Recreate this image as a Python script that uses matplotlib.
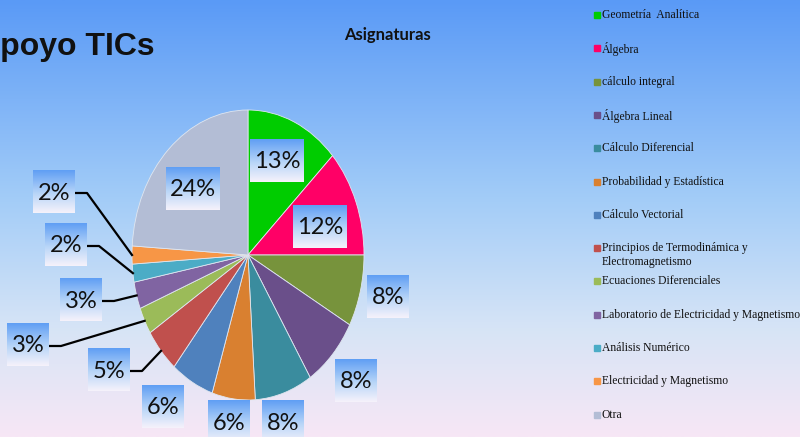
import numpy as np
import matplotlib.pyplot as plt
from matplotlib.colors import to_rgb
from matplotlib.patches import Rectangle

# datos
asignaturas = ["Geometría  Analítica", "Álgebra", "cálculo integral", "Álgebra Lineal",
               "Cálculo Diferencial", "Probabilidad y Estadística", "Cálculo Vectorial",
               "Principios de Termodinámica y\nElectromagnetismo", "Ecuaciones Diferenciales",
               "Laboratorio de Electricidad y Magnetismo", "Análisis Numérico",
               "Electricidad y Magnetismo", "Otra"]
porcentajes = [13, 12, 8, 8, 8, 6, 6, 5, 3, 3, 2, 2, 24]
colores = ["#00cc00", "#ff0066", "#77933c", "#6a4f8a", "#3a8c9e", "#d98030", "#4f81bd",
           "#c0504d", "#9bbb59", "#8064a2", "#4bacc6", "#f79646", "#b3bdd5"]

# posiciones de las etiquetas (pixeles) y cuales llevan linea guia
pos_etiquetas = [(277, 161), (320, 227), (388, 297), (356, 381), (283, 422), (229, 422),
                 (163, 407), (109, 370), (28, 345), (81, 300), (66, 245), (54, 192), (193, 189)]
con_linea = [False] * 7 + [True] * 5 + [False]

W, H = 800, 437
cx, cy, rx, ry = 248, 255, 116, 145

fig = plt.figure(figsize=(W / 100, H / 100), dpi=100)

# fondo degradado
fondo = fig.add_axes([0, 0, 1, 1], zorder=0)
stops = np.array([0, 0.45, 0.75, 1.0])
cols = np.array([to_rgb("#5a9af6"), to_rgb("#a2ccf8"), to_rgb("#d6e4f6"), to_rgb("#f7e7f5")])
t = np.linspace(0, 1, 256)
grad = np.stack([np.interp(t, stops, cols[:, k]) for k in range(3)], axis=1)
fondo.imshow(grad[:, None, :], aspect="auto", extent=(0, 1, 0, 1))
fondo.axis("off")

# pastel (eliptico)
ax = fig.add_axes([(cx - rx) / W, (H - cy - ry) / H, 2 * rx / W, 2 * ry / H], zorder=1)
wedges, _ = ax.pie(porcentajes, colors=colores, startangle=90, counterclock=False,
                   radius=1, wedgeprops=dict(edgecolor="#dfe6f0", linewidth=0.6))
ax.set_aspect("auto")
ax.set_xlim(-1, 1)
ax.set_ylim(-1, 1)

# capa de etiquetas en pixeles
capa = fig.add_axes([0, 0, 1, 1], zorder=2)
capa.patch.set_alpha(0)
capa.axis("off")

caja = np.stack([np.interp(t, [0, 0.55, 1], [to_rgb("#5f9ef4")[k], to_rgb("#b9d6f8")[k], to_rgb("#f6f2fb")[k]])
                 for k in range(3)], axis=1)[:, None, :]

for w, p, (lx, ly), linea in zip(wedges, porcentajes, pos_etiquetas, con_linea):
    bw = 54 if p >= 10 else 42
    bh = 43
    capa.imshow(caja, aspect="auto", extent=(lx - bw / 2, lx + bw / 2, ly + bh / 2, ly - bh / 2),
                zorder=3)
    capa.text(lx, ly + 1, f"{p}%", ha="center", va="center", fontsize=17,
              family="Lato", color="#111111", zorder=4)
    if linea:
        ang = np.deg2rad((w.theta1 + w.theta2) / 2)
        ex = cx + rx * np.cos(ang)
        ey = cy - ry * np.sin(ang)
        x0 = lx + bw / 2 + 1
        capa.plot([x0, x0 + 11, ex], [ly + 1, ly + 1, ey], color="black", lw=1.6, zorder=2)

# leyenda
for i, (nombre, c) in enumerate(zip(asignaturas, colores)):
    yy = 15 + 33.3 * i
    capa.add_patch(Rectangle((594, yy - 3), 6, 6, color=c, zorder=3))
    capa.text(602, yy - 6, nombre, ha="left", va="top", fontsize=8.4,
              family="Liberation Serif", color="#111111", linespacing=1.25)

# titulos
capa.text(387, 35, "Asignaturas", ha="center", va="center", fontsize=12,
          family="Lato", fontweight="bold", color="#111111")
capa.text(155, 55, "Apoyo TICs", ha="right", va="baseline", fontsize=23,
          family="Liberation Sans", fontweight="bold", color="#111111")

capa.set_xlim(0, W)
capa.set_ylim(H, 0)

fig.savefig("out.png", dpi=100)
